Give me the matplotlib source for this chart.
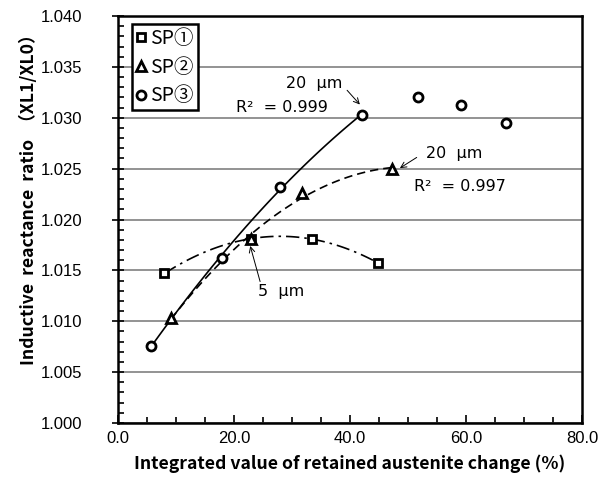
import numpy as np
import matplotlib
matplotlib.use("Agg")
import matplotlib.pyplot as plt
from matplotlib.ticker import MultipleLocator

# data
sp1_x = [8.0, 23.0, 33.4, 44.9]
sp1_y = [1.0147, 1.0181, 1.0181, 1.0157]
sp2_x = [9.1, 23.0, 31.8, 47.2]
sp2_y = [1.0103, 1.0181, 1.0226, 1.0250]
sp3_x = [5.7, 17.9, 27.9, 42.1, 51.8, 59.1, 66.9]
sp3_y = [1.0076, 1.0162, 1.0232, 1.0303, 1.0320, 1.0313, 1.0295]
legend_labels = ["SP①", "SP②", "SP③"]

fig = plt.figure(figsize=(6.0, 4.83), dpi=100)
ax = fig.add_axes([118/600, 1-423/483, (582-118)/600, (423-16)/483])

ax.set_xlim(0, 80)
ax.set_ylim(1.000, 1.040)
ax.xaxis.set_major_locator(MultipleLocator(20))
ax.xaxis.set_minor_locator(MultipleLocator(5))
ax.yaxis.set_major_locator(MultipleLocator(0.005))
ax.yaxis.set_minor_locator(MultipleLocator(0.001))
ax.yaxis.grid(True, which='major', color='#808080', linewidth=1.2)
ax.set_axisbelow(True)
for s in ax.spines.values():
    s.set_linewidth(1.8)
ax.xaxis.set_major_formatter(plt.FuncFormatter(lambda v, p: f"{v:.1f}"))
ax.yaxis.set_major_formatter(plt.FuncFormatter(lambda v, p: f"{v:.3f}"))
ax.tick_params(which='minor', direction='in', length=4, width=1.2)
ax.tick_params(axis='x', which='major', direction='in', length=6, width=1.2, labelsize=12, pad=6)
ax.yaxis.set_tick_params(which='major', direction='inout', length=8, width=1.2, labelsize=12, pad=22)
for lbl in ax.get_xticklabels() + ax.get_yticklabels():
    lbl.set_fontfamily("Liberation Sans")

# trend lines (quadratic fits)
def fit(xs, ys, x0, x1):
    c = np.polyfit(xs, ys, 2)
    xx = np.linspace(x0, x1, 100)
    return xx, np.polyval(c, xx)

xx, yy = fit(sp3_x[:4], sp3_y[:4], sp3_x[0], sp3_x[3])
ax.plot(xx, yy, color='black', lw=1.2, ls='-')
xx, yy = fit(sp2_x, sp2_y, sp2_x[0], sp2_x[-1])
ax.plot(xx, yy, color='black', lw=1.2, ls=(0, (5, 3)))
xx, yy = fit(sp1_x, sp1_y, sp1_x[0], sp1_x[-1])
ax.plot(xx, yy, color='black', lw=1.2, ls=(0, (8, 3, 1.5, 3)))

mk = dict(mfc='white', mec='black', mew=2.0, ls='none', zorder=5)
h1, = ax.plot(sp1_x, sp1_y, marker='s', ms=6, **mk)
h2, = ax.plot(sp2_x, sp2_y, marker='^', ms=6.5, **mk)
h3, = ax.plot(sp3_x, sp3_y, marker='o', ms=6.5, **mk)

leg = ax.legend([h1, h2, h3], legend_labels, loc='upper left',
                bbox_to_anchor=(14/464, 1-8/407), frameon=True, fancybox=False,
                edgecolor='black', framealpha=1, handlelength=0.5,
                handletextpad=0.25, borderpad=0.2, labelspacing=0.4,
                borderaxespad=0.0,
                prop={'family': ['Noto Sans CJK JP'], 'size': 14})
leg.get_frame().set_linewidth(1.8)
leg.set_zorder(10)

tf = dict(family=['DejaVu Sans'], fontsize=11.5, ha='center', va='center')
ap = dict(arrowstyle='->', color='black', lw=0.7, shrinkA=0, shrinkB=0)
ax.text(33.8, 1.0334, "20  μm", **tf)
ax.annotate("", xy=(41.7, 1.0313), xytext=(39.5, 1.0327), arrowprops=ap)
ax.text(28.2, 1.0310, "R²  = 0.999", **tf)
ax.text(57.9, 1.0265, "20  μm", **tf)
ax.annotate("", xy=(48.6, 1.02505), xytext=(51.5, 1.0261), arrowprops=ap)
ax.text(59.0, 1.0232, "R²  = 0.997", **tf)
ax.text(28.1, 1.0129, "5  μm", **tf)
ax.annotate("", xy=(22.8, 1.0174), xytext=(24.5, 1.0139), arrowprops=ap)

lf = dict(family=['Noto Sans CJK JP'], fontweight='bold')
ax.set_xlabel("Integrated value of retained austenite change (%)", labelpad=6, fontsize=12.7, **lf)
ax.set_ylabel("Inductive  reactance  ratio  （XL1/XL0）", fontsize=12.7, **lf)
ax.yaxis.set_label_coords(38/600, 1-195/483, transform=fig.transFigure)

fig.savefig("out.png", dpi=100)
